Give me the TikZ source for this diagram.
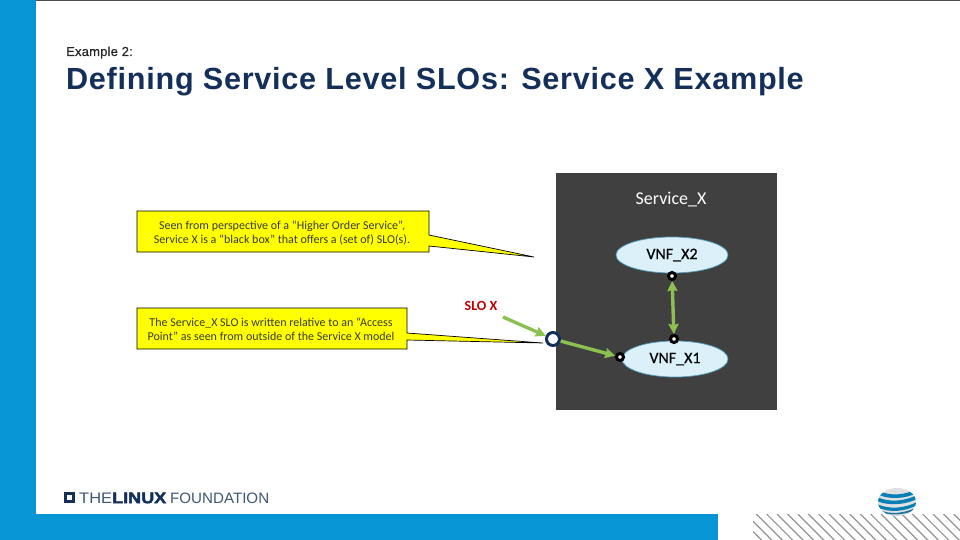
\documentclass[tikz,border=0pt]{standalone}
\usepackage{fontspec}
\setmainfont{Liberation Sans}
\newfontfamily\carl{Carlito}
\newfontface\carlsemi[FakeBold=0.5]{Carlito}
\newfontface\titleface[LetterSpace=2.4]{Liberation Sans Bold}
\newfontface\kickface[FakeBold=0.5,LetterSpace=1.5]{Liberation Sans}
\newfontface\logobold[FakeBold=2.5]{Liberation Sans Bold}
\usetikzlibrary{arrows.meta,shapes.geometric}
\definecolor{attblue}{HTML}{0795D6}
\definecolor{titlecol}{HTML}{14305A}
\definecolor{panel}{HTML}{404040}
\definecolor{vnffill}{HTML}{DCF0FA}
\definecolor{vnfedge}{HTML}{4F9CC0}
\definecolor{slogreen}{HTML}{8CC152}
\definecolor{navy}{HTML}{12305A}
\definecolor{calloutyellow}{HTML}{FFFF00}
\definecolor{textgrey}{HTML}{3A3A3A}
\definecolor{logolight}{HTML}{3F5874}
\tikzset{
  x=1pt,y=-1pt,
  band/.style={fill=attblue,draw=none},
  callout/.style={fill=calloutyellow,draw=black,line width=0.7pt},
  callouttext/.style={font=\carl\fontsize{12}{14}\selectfont,text=textgrey,align=center,inner sep=0pt},
  vnf/.style={ellipse,fill=vnffill,draw=vnfedge,line width=0.7pt,minimum width=106pt,minimum height=36pt,inner sep=0pt,font=\carlsemi\fontsize{16}{18}\selectfont,text=black},
  port/.style={circle,fill=white,draw=black,line width=3pt,minimum size=7pt,inner sep=0pt},
  access/.style={circle,fill=white,draw=navy,line width=3pt,minimum size=13pt,inner sep=0pt},
  link/.style={draw=slogreen,line width=3.4pt},
  tipped/.style={-{Stealth[length=10pt,width=10pt,inset=1pt]}},
  bothtips/.style={{Stealth[length=10pt,width=10pt,inset=1pt]}-{Stealth[length=10pt,width=10pt,inset=1pt]}},
  logotxt/.style={anchor=west,inner sep=0pt},
}
\begin{document}
\begin{tikzpicture}
\useasboundingbox (0,0) rectangle (960,540);
\fill[white] (0,0) rectangle (960,540);
% frame
\fill[black!70] (0,0) rectangle (960,1);
\fill[band] (0,0) rectangle (36,540);
\fill[band] (0,514) rectangle (718,540);
% hatch
\begin{scope}
\clip (753,514) rectangle (960,540);
\foreach \i in {0,...,25} {
  \draw[black!42,line width=1.2pt] ({725+\i*10.4},514) -- ++(30,30);
}
\end{scope}
% globe
\begin{scope}
\clip (897,502) ellipse [x radius=19,y radius=14];
\fill[black!12] (877,487) rectangle (917,517);
\fill[attblue!85!black] (877,490) .. controls (890,497) and (905,495) .. (917,489) -- (917,493) .. controls (905,499) and (888,500) .. (877,494) -- cycle;
\fill[attblue!85!black] (877,497) .. controls (890,503) and (905,501) .. (917,495) -- (917,499) .. controls (905,505) and (888,506) .. (877,501) -- cycle;
\fill[attblue!85!black] (877,504) .. controls (890,510) and (905,508) .. (917,502) -- (917,505) .. controls (905,512) and (888,513) .. (877,507) -- cycle;
\fill[attblue!70!black!90] (880,510) .. controls (890,515) and (905,513) .. (915,508) -- (915,510) .. controls (905,515) and (890,516) .. (880,512) -- cycle;
\end{scope}
% logo
\node[draw=navy,line width=2.6pt,minimum size=8pt,inner sep=0pt] (logomark) at (69.5,497.5) {};
\node[logotxt,text=logolight] (logothe) at (79,498) {\resizebox{33pt}{10.5pt}{THE}};
\node[logotxt,text=titlecol] (logolinux) at (112,498) {\resizebox{54pt}{10.5pt}{\logobold LINUX}};
\node[logotxt,text=logolight] (logofound) at (170,498) {\resizebox{99pt}{10.5pt}{FOUNDATION}};
% titles
\node[anchor=base west,inner sep=0pt,text=black!85,font=\kickface\fontsize{13}{15}\selectfont] (kicker) at (66,56) {Example 2:};
\node[anchor=base west,inner sep=0pt,text=titlecol,font=\titleface\fontsize{30.6}{34}\selectfont] (title) at (66,90) {Defining Service Level SLOs: Service X Example};
% callouts
\draw[callout] (137,211) -- (429,211) -- (429,235) -- (534,257) -- (429,246) -- (429,252) -- (137,252) -- cycle;
\node[callouttext] (noteA) at (282,233) {Seen from perspective of a “Higher Order Service”,\\Service X is a “black box” that offers a (set of) SLO(s).};
\draw[callout] (137,308) -- (407,308) -- (407,333) -- (543,343) -- (407,340) -- (407,349) -- (137,349) -- cycle;
\node[callouttext] (noteB) at (271,329) {The Service\_X SLO is written relative to an “Access\\Point” as seen from outside of the Service X model};
% panel
\fill[panel] (556,173) rectangle (777,410);
\node[text=white,font=\carl\fontsize{18}{20}\selectfont,inner sep=0pt] (svc) at (671,200) {Service\_X};
\node[vnf,minimum width=112pt] (x2) at (672,255) {\raisebox{-2.5pt}{VNF\_X2}};
\node[vnf] (x1) at (675,359) {\raisebox{-2.5pt}{VNF\_X1}};
\node[port] (p2) at (672,276) {};
\node[port] (p1) at (674,339) {};
\node[port] (p3) at (620,357) {};
\node[access] (ap) at (553,339) {};
\node[text=red!75!black,font=\carl\bfseries\fontsize{14}{16}\selectfont,inner sep=0pt] (slo) at (481,306) {SLO X};
\coordinate (sloend) at (503,317);
\draw[link,tipped] (sloend) -- (ap);
\draw[link,tipped] (ap) -- (p3);
\draw[link,bothtips] (p2) -- (p1);
\end{tikzpicture}
\end{document}
